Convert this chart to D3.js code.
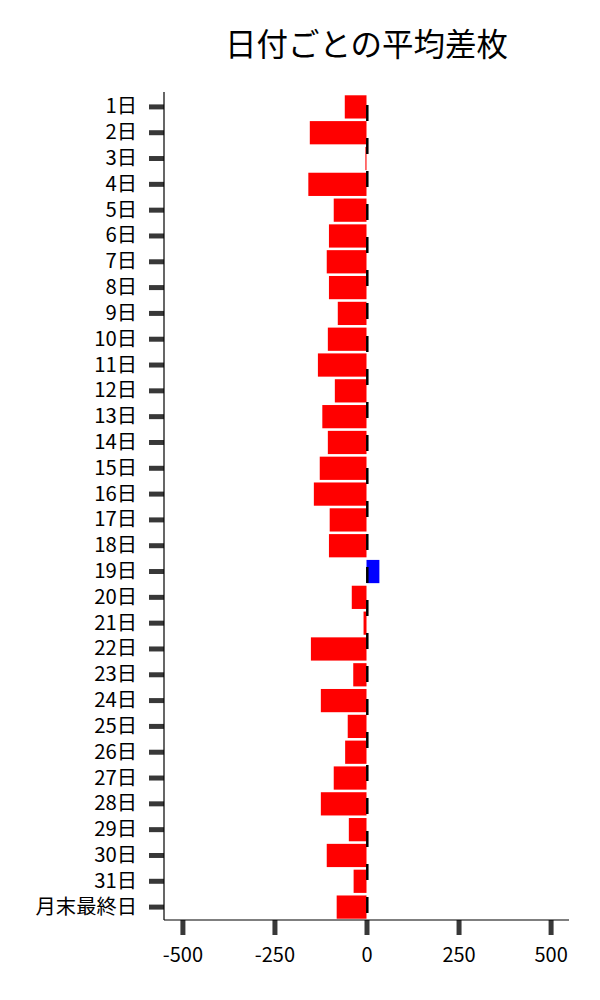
<!DOCTYPE html>
<html>
<head>
<meta charset="utf-8">
<script src="https://cdn.jsdelivr.net/npm/d3@7"></script>
<style>
  body { margin: 0; background: #fff; }
  svg text { font-family: "Noto Sans CJK JP", "Noto Sans", sans-serif; }
</style>
</head>
<body>
<svg id="chart" width="600" height="1000"></svg>
<script>
// categories and average difference per date
const days = ["1日","2日","3日","4日","5日","6日","7日","8日","9日","10日",
  "11日","12日","13日","14日","15日","16日","17日","18日","19日","20日",
  "21日","22日","23日","24日","25日","26日","27日","28日","29日","30日",
  "31日","月末最終日"];
const avgDiff = [-59, -154, -3, -158, -89, -102, -108, -102, -78, -105,
  -132, -86, -120, -105, -127, -143, -100, -102, 35, -40,
  -8, -151, -36, -124, -51, -58, -89, -124, -48, -108,
  -35, -81];
const xTicks = [-500, -250, 0, 250, 500];

const margin = { top: 92, right: 31, bottom: 80, left: 164 };
const width = 600 - margin.left - margin.right,
      height = 1000 - margin.top - margin.bottom;

const svg = d3.select("#chart");
const g = svg.append("g").attr("transform", `translate(${margin.left},${margin.top})`);

const x = d3.scaleLinear().domain([-550, 550]).range([0, width]);
const y = d3.scaleBand().domain(days).range([2, height]).paddingInner(0.1).paddingOuter(0.05);

// bars
g.selectAll(".bar")
  .data(days.map((d, i) => ({ day: d, value: avgDiff[i] })))
  .enter()
  .append("rect")
  .attr("x", d => x(Math.min(0, d.value)))
  .attr("y", d => y(d.day))
  .attr("width", d => Math.abs(x(d.value) - x(0)))
  .attr("height", y.bandwidth())
  .attr("fill", d => d.value >= 0 ? "#0000ff" : "#ff0000");

// zero line, dashed
g.append("line")
  .attr("x1", x(0) + 0.8).attr("x2", x(0) + 0.8)
  .attr("y1", 0).attr("y2", height)
  .attr("stroke", "black")
  .attr("stroke-width", 2.5)
  .attr("stroke-dasharray", "16,17")
  .attr("stroke-dashoffset", 20);

// y axis
const yAxis = d3.axisLeft(y).tickSize(15).tickPadding(12);
const yG = g.append("g").call(yAxis).attr("font-family", null);
yG.select(".domain").remove();
yG.selectAll("line").attr("stroke", "#383838").attr("stroke-width", 5);
yG.selectAll("text").attr("fill", "black").attr("font-size", "20.3px");

// x axis
const xAxis = d3.axisBottom(x).tickValues(xTicks).tickSize(15).tickPadding(13).tickFormat(d => String(d));
const xG = g.append("g").attr("transform", `translate(0,${height})`).call(xAxis).attr("font-family", null);
xG.select(".domain").remove();
xG.selectAll("line").attr("stroke", "#383838").attr("stroke-width", 5);
xG.selectAll("text").attr("fill", "black").attr("font-size", "20px");

// spines
g.append("line").attr("x1", 0).attr("x2", 0).attr("y1", 0).attr("y2", height)
  .attr("stroke", "black").attr("stroke-width", 1.2);
g.append("line").attr("x1", 0).attr("x2", width).attr("y1", height).attr("y2", height)
  .attr("stroke", "black").attr("stroke-width", 1.2);

// title
svg.append("text")
  .attr("x", margin.left + width / 2)
  .attr("y", 56)
  .attr("text-anchor", "middle")
  .attr("font-size", "31.5px")
  .attr("fill", "black")
  .text("日付ごとの平均差枚");
</script>
</body>
</html>
